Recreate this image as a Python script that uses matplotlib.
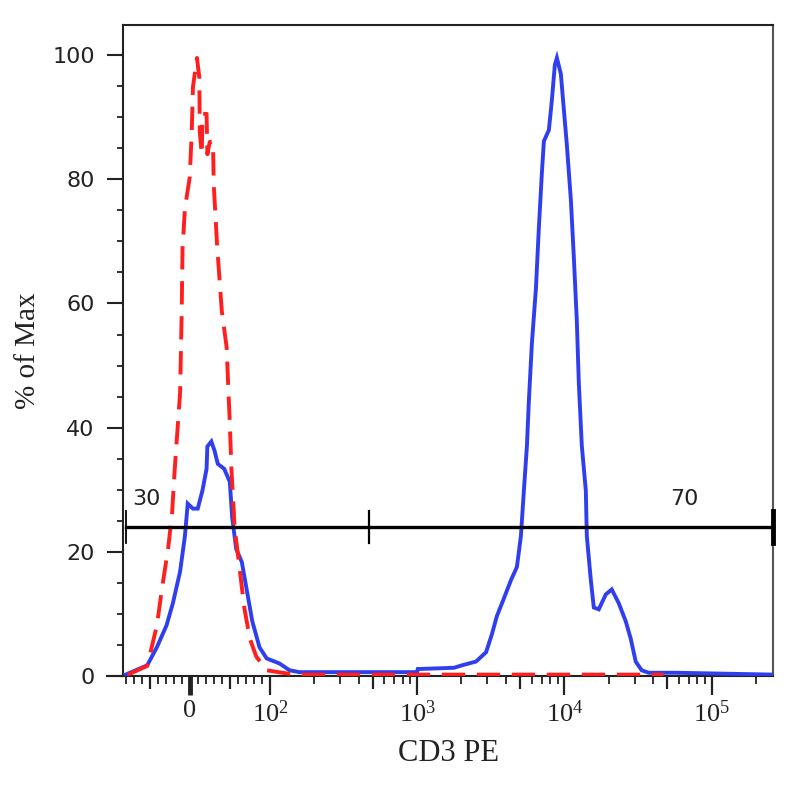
import numpy as np
import matplotlib
matplotlib.use("Agg")
import matplotlib.pyplot as plt
from matplotlib.ticker import FixedLocator, FixedFormatter, MultipleLocator

# ---------------- data ----------------
# isotype control (red dashed): CD3 PE intensity vs % of Max
red_x = [-77, -53, -41, -34, -27, -22, -19, -12, -10, -9, -6, 0, 2.5, 4, 9,
         12, 12.5, 15, 16, 21, 22, 25, 29, 30, 34, 40, 46, 50, 52, 56, 62,
         68, 75, 83, 96, 121, 150, 47000]
red_y = [0.3, 1.7, 8.2, 14.7, 20.5, 26.3, 32.8, 45.7, 58.8, 68.8, 75.3, 80.3,
         87.6, 94.8, 99.5, 96.3, 87.6, 84, 90.5, 90.5, 84, 86, 86, 79, 69.6,
         58.8, 53, 40.7, 33.4, 24, 17.6, 11.1, 6.1, 3.2, 1.0, 0.6, 0.3, 0.3]

# CD3 PE stained sample (blue solid)
blue_x = [-80, -53, -41, -29, -21, -12, -6, -2.5, 4, 10, 16, 21, 22, 27, 31,
          35, 43, 50, 53, 58, 65, 71, 78, 87, 96, 116, 136, 158, 1000, 1010,
          1780, 2020, 2510, 2940, 3220, 3480, 3890, 4340, 4760, 5070, 5310,
          5570, 5740, 6020, 6410, 6720, 7040, 7260, 7850, 8220, 8620, 8900,
          9470, 9930, 10400, 11070, 11600, 12150, 12540, 13140, 13990, 14210,
          15130, 15850, 17140, 19110, 20990, 23400, 26100, 28230, 30530,
          33500, 37400, 57000, 262144]
blue_y = [0.3, 1.8, 4.7, 8.2, 11.8, 16.9, 22.6, 27.8, 27, 27, 30, 33.4, 37,
          37.8, 36.3, 34.2, 33.4, 31.3, 25.5, 20.5, 18.4, 14, 8.9, 4.7, 2.9,
          2.1, 1.0, 0.7, 0.7, 1.2, 1.4, 1.8, 2.4, 3.9, 6.8, 9.7, 12.6, 15.5,
          17.6, 22.6, 29.9, 37.1, 44.3, 53.6, 62.4, 72.4, 81.1, 86.1, 87.9,
          92.6, 98.4, 99.5, 96.9, 91.1, 85.5, 76.7, 67.4, 57.3, 47.2, 37.1,
          29.9, 22.6, 15.5, 11.1, 10.8, 13.2, 14, 11.8, 8.9, 6.1, 2.4, 1.0,
          0.6, 0.6, 0.3]

# gate (marker) with its two regions
gate_edges = [-80, 470, 262144]
gate_level = 24
gate_labels = ["30", "70"]
gate_label_x = [-72, 52700]

x_major = [0, 1e2, 1e3, 1e4, 1e5]
x_major_labels = ["0", r"$10^{2}$", r"$10^{3}$", r"$10^{4}$", r"$10^{5}$"]
x_medium = [-50, 50, 500, 5000, 50000]
x_limits = (-83, 262144)
y_limits = (0, 104.8)

# ---------------- style ----------------
plt.rcParams["mathtext.fontset"] = "custom"
plt.rcParams["mathtext.rm"] = "Liberation Serif"
plt.rcParams["mathtext.it"] = "Liberation Serif:italic"

RED = "#ff1f1f"
BLUE = "#2f3fee"
INK = "#222222"

fig = plt.figure(figsize=(8, 8), dpi=100)
ax = fig.add_axes([0.154, 0.1544, 0.8125, 0.8144])
ax.set_xscale("symlog", linthresh=100, linscale=0.49)

ax.plot(blue_x, blue_y, color=BLUE, lw=2.8, solid_joinstyle="miter", zorder=3)
ax.plot(red_x, red_y, color=RED, lw=2.8, dashes=(6, 3), zorder=4)

# gate line with end / divider ticks
ax.plot([gate_edges[0], gate_edges[-1]], [gate_level, gate_level],
        color="black", lw=2.4, zorder=5, clip_on=False)
for i, gx in enumerate(gate_edges):
    lw = 1.3 if i == 0 else (1.6 if i == 1 else 3.5)
    ax.plot([gx, gx], [gate_level - 2.6, gate_level + 2.6], color="black",
            lw=lw, zorder=5, clip_on=False)
for lab, lx in zip(gate_labels, gate_label_x):
    ax.text(lx, gate_level + 2.9, lab, fontsize=16, family="DejaVu Sans",
            color=INK, ha="left", va="bottom")

ax.set_xlim(*x_limits)
ax.set_ylim(*y_limits)

# x ticks: decades (long), 5x (medium), others (short)
major_locs = x_major + x_medium
major_labs = x_major_labels + [""] * len(x_medium)
ax.xaxis.set_major_locator(FixedLocator(major_locs))
ax.xaxis.set_major_formatter(FixedFormatter(major_labs))
minor = [v for v in range(-80, 100, 10) if v not in (-50, 0, 50)]
for d in (2, 3, 4, 5):
    for k in (2, 3, 4, 6, 7, 8, 9):
        v = k * 10 ** d
        if v < x_limits[1]:
            minor.append(v)
ax.xaxis.set_minor_locator(FixedLocator(minor))
ax.tick_params(axis="x", which="major", direction="out", length=14, width=1.6,
               pad=3, labelsize=19, color=INK, labelcolor=INK)
ax.tick_params(axis="x", which="minor", direction="out", length=5.5, width=1.3,
               color=INK)
for lab in ax.get_xticklabels():
    lab.set_family("Liberation Serif")
ticks = ax.xaxis.get_major_ticks()
for t, loc in zip(ticks, major_locs):
    if loc in x_medium:
        t.tick1line.set_markersize(9.5)
    if loc == 0:
        t.tick1line.set_markeredgewidth(3.5)

# y ticks
ax.yaxis.set_major_locator(MultipleLocator(20))
ax.yaxis.set_minor_locator(MultipleLocator(5))
ax.tick_params(axis="y", which="major", direction="out", length=11.5, width=1.5,
               pad=9, labelsize=16, color=INK, labelcolor=INK)
ax.tick_params(axis="y", which="minor", direction="out", length=4.5, width=1.3,
               color=INK)
for lab in ax.get_yticklabels():
    lab.set_family("DejaVu Sans")

for s in ax.spines.values():
    s.set_linewidth(1.5)
    s.set_color(INK)
ax.spines["right"].set_color("#555555")

# bottom axis line runs slightly past the left spine
ax.plot([-0.025, 0], [0, 0], transform=ax.transAxes, color=INK, lw=1.5,
        clip_on=False)

ax.set_xlabel("CD3 PE", fontsize=22, family="Liberation Serif", labelpad=9,
              color=INK)
ax.set_ylabel("% of Max", fontsize=21, family="Liberation Serif", labelpad=8,
              color=INK)

fig.savefig("out.png", dpi=100)
